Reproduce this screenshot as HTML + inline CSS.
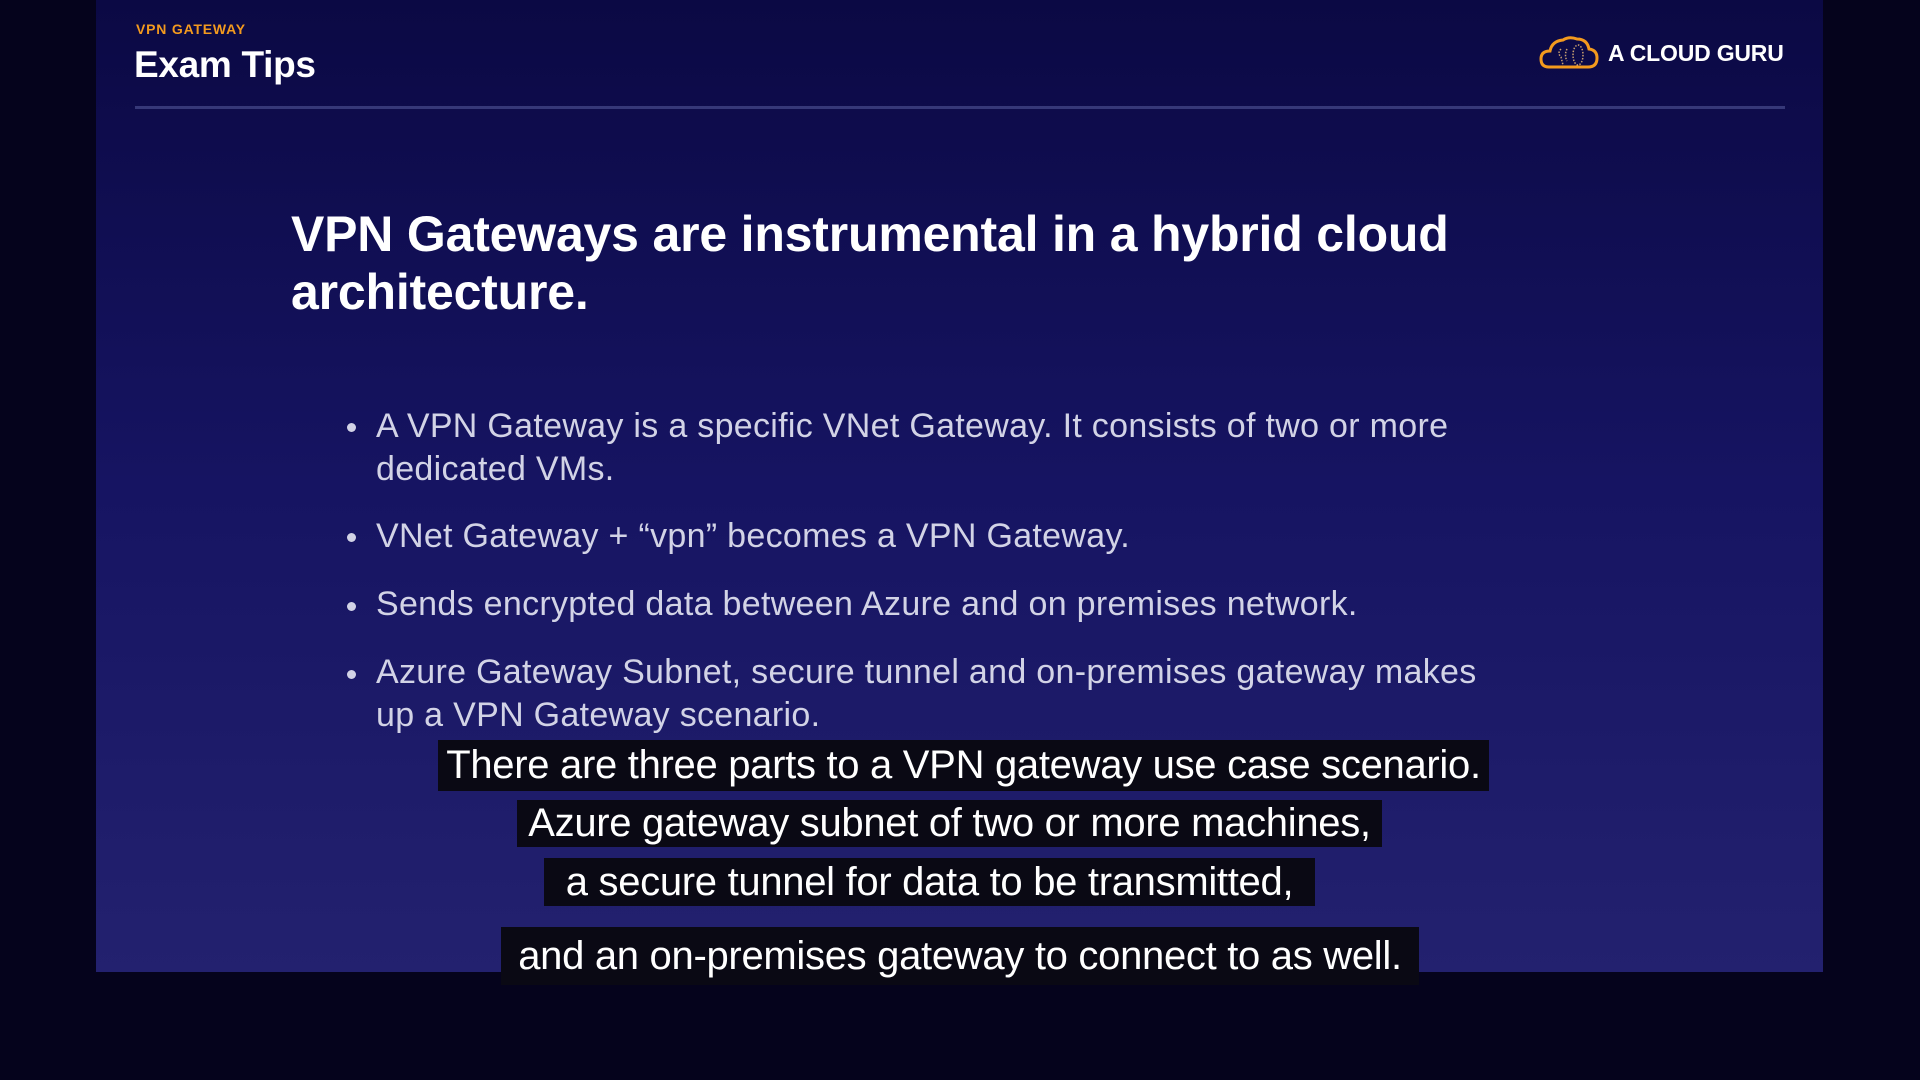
<!DOCTYPE html>
<html><head><meta charset="utf-8"><style>
html,body{margin:0;padding:0;width:1920px;height:1080px;background:#05031c;overflow:hidden;font-family:"Liberation Sans",sans-serif}
.slide{position:absolute;left:96px;top:0;width:1727px;height:972px;background:linear-gradient(180deg,#0b0944 0%,#161462 50%,#23216f 100%)}
.abs{position:absolute;white-space:nowrap}
.cap{position:absolute;background:#0a0914;color:#fff;font-size:40px;text-align:center;white-space:nowrap;letter-spacing:-0.3px}
.b{position:absolute;color:#d2d3e6;font-size:34px;white-space:nowrap;letter-spacing:0.3px}
.dot{position:absolute;width:9px;height:9px;border-radius:50%;background:#d2d3e6}
</style></head><body>
<div class="slide"></div>
<div class="abs" style="left:136px;top:21px;font-size:14px;font-weight:bold;color:#f39a1e;letter-spacing:0.8px">VPN GATEWAY</div>
<div class="abs" style="left:134px;top:44px;font-size:37px;font-weight:bold;color:#fff;letter-spacing:-0.3px">Exam Tips</div>
<div style="position:absolute;left:135px;top:106px;width:1650px;height:3px;background:#363878"></div>
<svg style="position:absolute;left:1539px;top:35px" width="60" height="36" viewBox="0 0 60 36">
<path d="M10 32 Q2 32 2 24 Q2 16 11 16 Q13 6 24 5 Q30 1 38 4 Q48 4 50 14 Q58 15 58 23 Q58 32 49 32 Z" fill="none" stroke="#f39a1e" stroke-width="3"/>
<path d="M22 14 Q18 18 22 22 L24 30 M28 14 Q25 20 28 26" fill="none" stroke="#c9a070" stroke-width="1.5" stroke-dasharray="1.5 1.5"/>
<ellipse cx="39" cy="20" rx="5" ry="10" fill="none" stroke="#c9a070" stroke-width="1.5" stroke-dasharray="1.5 1.5"/>
</svg>
<div class="abs" style="left:1608px;top:40px;font-size:23px;font-weight:bold;color:#fff;letter-spacing:-0.2px">A CLOUD GURU</div>

<div class="abs" style="left:291px;top:205px;font-size:50px;font-weight:bold;color:#fff;line-height:58px;letter-spacing:-0.2px">VPN Gateways are instrumental in a hybrid cloud<br>architecture.</div>

<div class="dot" style="left:347px;top:423px"></div>
<div class="b" style="left:376px;top:405px;line-height:43px">A VPN Gateway is a specific VNet Gateway. It consists of two or more<br>dedicated VMs.</div>
<div class="dot" style="left:347px;top:533px"></div>
<div class="b" style="left:376px;top:515px;line-height:43px">VNet Gateway + “vpn” becomes a VPN Gateway.</div>
<div class="dot" style="left:347px;top:602px"></div>
<div class="b" style="left:376px;top:583px;line-height:43px">Sends encrypted data between Azure and on premises network.</div>
<div class="dot" style="left:347px;top:670px"></div>
<div class="b" style="left:376px;top:651px;line-height:43px">Azure Gateway Subnet, secure tunnel and on-premises gateway makes<br>up a VPN Gateway scenario.</div>

<div class="cap" style="left:438px;top:740px;width:1051px;height:51px;line-height:51px">There are three parts to a VPN gateway use case scenario.</div>
<div class="cap" style="left:517px;top:800px;width:865px;height:47px;line-height:47px">Azure gateway subnet of two or more machines,</div>
<div class="cap" style="left:544px;top:858px;width:771px;height:48px;line-height:48px">a secure tunnel for data to be transmitted,</div>
<div class="cap" style="left:501px;top:927px;width:918px;height:58px;line-height:58px">and an on-premises gateway to connect to as well.</div>
</body></html>
